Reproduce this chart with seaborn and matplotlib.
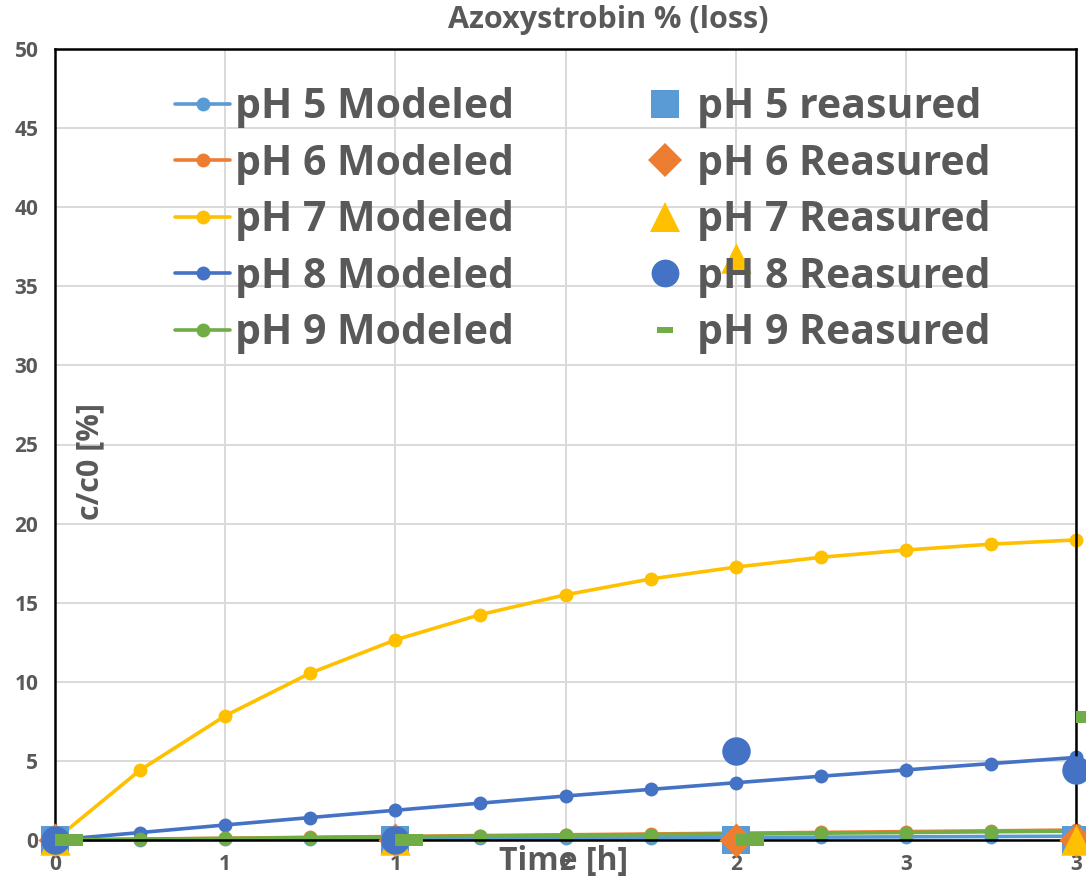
import matplotlib
matplotlib.use("Agg")
import matplotlib.pyplot as plt
import seaborn as sns
from matplotlib.lines import Line2D

# modeled curves (every 0.25 h)
t_model = [0, 0.25, 0.5, 0.75, 1.0, 1.25, 1.5, 1.75, 2.0, 2.25, 2.5, 2.75, 3.0]
ph5_model = [0, 0.02, 0.04, 0.06, 0.08, 0.1, 0.12, 0.14, 0.16, 0.18, 0.2, 0.22, 0.24]
ph6_model = [0, 0.06, 0.11, 0.17, 0.22, 0.28, 0.33, 0.38, 0.43, 0.48, 0.53, 0.58, 0.63]
ph7_model = [0, 4.42, 7.85, 10.55, 12.65, 14.25, 15.5, 16.5, 17.25, 17.87, 18.33, 18.7, 18.97]
ph8_model = [0, 0.47, 0.95, 1.42, 1.88, 2.33, 2.78, 3.2, 3.62, 4.03, 4.43, 4.83, 5.22]
ph9_model = [0, 0.05, 0.1, 0.15, 0.2, 0.25, 0.29, 0.34, 0.38, 0.43, 0.47, 0.52, 0.56]

# measured points
t_meas = [0, 1, 2, 3]
ph5_meas = [0, 0, 0, 0]
ph6_meas = [0, 0, 0, 0]
ph7_meas = [0, 0, 36.8, 0]
ph8_meas = [0, 0, 5.6, 4.4]
ph9_meas = [0, 0, 0, 7.8]

x_ticks = [0, 0.5, 1, 1.5, 2, 2.5, 3]
x_ticklabels = ["0", "1", "1", "2", "2", "3", "3"]
y_ticks = list(range(0, 55, 5))

model_labels = ["pH 5 Modeled", "pH 6 Modeled", "pH 7 Modeled", "pH 8 Modeled", "pH 9 Modeled"]
meas_labels = ["pH 5 reasured", "pH 6 Reasured", "pH 7 Reasured", "pH 8 Reasured", "pH 9 Reasured"]
colors = ["#5B9BD5", "#ED7D31", "#FFC000", "#4472C4", "#70AD47"]
gray = "#595959"

sns.set_style("whitegrid")
plt.rcParams["font.family"] = ["Open Sans", "DejaVu Sans"]
plt.rcParams["font.weight"] = "bold"

fig = plt.figure(figsize=(10.86, 8.86), dpi=100)
W, H = 1086, 886
ax = fig.add_axes([55 / W, 1 - 840 / H, (1076 - 55) / W, (840 - 49) / H])

# modeled lines
for vals, c in zip([ph5_model, ph6_model, ph7_model, ph8_model, ph9_model], colors):
    sns.lineplot(x=t_model, y=vals, color=c, marker="o", markersize=10,
                 markeredgewidth=0, linewidth=2.6, ax=ax, clip_on=False)

# measured markers
dash_right = [(0, -0.43), (2, -0.43), (2, 0.43), (0, 0.43)]
meas_sets = [(ph5_meas, "s", 400), (ph6_meas, "D", 300), (ph7_meas, "^", 480),
             (ph8_meas, "o", 420), (ph9_meas, dash_right, 1600)]
for (vals, mk, s), c in zip(meas_sets, colors):
    sns.scatterplot(x=t_meas, y=vals, color=c, marker=mk, s=s, linewidth=0,
                    ax=ax, clip_on=False, zorder=5)

ax.set_xlim(0, 3)
ax.set_ylim(0, 50)
ax.set_xticks(x_ticks)
ax.set_xticklabels(x_ticklabels)
ax.set_yticks(y_ticks)
ax.grid(True, color="#d9d9d9", linewidth=1.4)
for sp in ax.spines.values():
    sp.set_color("black")
    sp.set_linewidth(1.8)
ax.tick_params(axis="both", colors="black", labelcolor=gray, labelsize=15,
               length=6, width=1.5, direction="out", pad=6)
ax.tick_params(axis="x", pad=4)
for lab in ax.get_xticklabels() + ax.get_yticklabels():
    lab.set_fontweight("bold")
ax.set_xlabel("")
ax.set_ylabel("")

# titles and axis labels
fig.text(608 / W, 1 - 20 / H, "Azoxystrobin % (loss)", ha="center", va="center",
         fontsize=22, fontweight="bold", color=gray)
fig.text(564 / W, 1 - 862 / H, "Time [h]", ha="center", va="center",
         fontsize=23, fontweight="bold", color=gray)
fig.text(90 / W, 1 - 461 / H, "c/c0 [%]", ha="center", va="center", rotation=90,
         fontsize=22, fontweight="bold", color=gray)

# legends
fs = 29.5
fs_px = fs * 100 / 72
model_handles = [Line2D([0], [0], color=c, linewidth=2.6, marker="o", markersize=10,
                        markeredgewidth=0) for c in colors]
dash_mid = [(-1, -0.4), (1, -0.4), (1, 0.4), (-1, 0.4)]
meas_handles = [
    Line2D([0], [0], linestyle="", marker="s", markersize=20, markeredgewidth=0, color=colors[0]),
    Line2D([0], [0], linestyle="", marker="D", markersize=17, markeredgewidth=0, color=colors[1]),
    Line2D([0], [0], linestyle="", marker="^", markersize=22, markeredgewidth=0, color=colors[2]),
    Line2D([0], [0], linestyle="", marker="o", markersize=20, markeredgewidth=0, color=colors[3]),
    Line2D([0], [0], linestyle="", marker=dash_mid, markersize=11, markeredgewidth=0, color=colors[4]),
]
common = dict(loc="upper left", frameon=False, borderpad=0, borderaxespad=0,
              prop={"size": fs, "weight": "bold"}, labelcolor=gray,
              handlelength=55 / fs_px, handletextpad=5 / fs_px, labelspacing=0.38,
              bbox_transform=fig.transFigure)
leg1 = ax.legend(model_handles, model_labels, bbox_to_anchor=(175 / W, 1 - 87 / H), **common)
ax.add_artist(leg1)
ax.legend(meas_handles, meas_labels, bbox_to_anchor=(637 / W, 1 - 87 / H), **common)

fig.savefig("out.png", dpi=100)
